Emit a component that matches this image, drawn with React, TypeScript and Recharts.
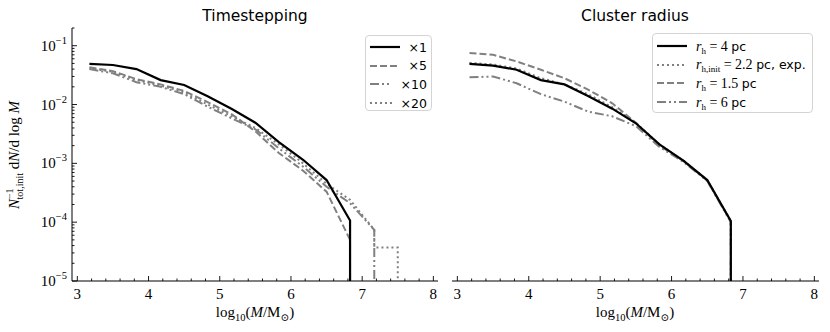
import React from 'react';
import { LineChart, Line, XAxis, YAxis } from 'recharts';

const FLOOR = 1e-5;

// bin centres in log10(M/Msun)
const massBins = [3.17, 3.5, 3.83, 4.17, 4.5, 4.83, 5.17, 5.5, 5.83, 6.17, 6.5, 6.83, 7.17, 7.5];

// Timestepping panel
const ts1 = [0.049, 0.047, 0.04, 0.026, 0.0215, 0.0138, 0.0084, 0.0049, 0.0023, 0.00115, 0.00052, 0.000107];
const ts5 = [0.043, 0.037, 0.027, 0.022, 0.017, 0.011, 0.0068, 0.0035, 0.0015, 0.00075, 0.00033, 0.00005];
const ts10 = [0.04, 0.034, 0.024, 0.02, 0.015, 0.0092, 0.0058, 0.0038, 0.0018, 0.00088, 0.0004, 0.00021, 0.000074];
const ts20 = [0.041, 0.036, 0.026, 0.021, 0.016, 0.01, 0.0063, 0.004, 0.0021, 0.001, 0.00045, 0.00024, 0.000074];
const ts1TailX = [6.83];
const ts1TailY = [FLOOR];
const ts5TailX = [6.83];
const ts5TailY = [FLOOR];
const ts10TailX = [7.17];
const ts10TailY = [FLOOR];
const ts20TailX = [7.17, 7.5, 7.5];
const ts20TailY = [0.000037, 0.000037, FLOOR];

// Cluster radius panel
const cr4 = [0.049, 0.046, 0.039, 0.026, 0.022, 0.014, 0.0085, 0.0048, 0.0021, 0.0011, 0.00052, 0.000105];
const cr22 = [0.051, 0.048, 0.041, 0.028, 0.022, 0.015, 0.009, 0.0049, 0.0021, 0.0011, 0.00052, 0.000105];
const cr15 = [0.075, 0.07, 0.054, 0.039, 0.028, 0.018, 0.0105, 0.0049, 0.002, 0.0011, 0.00051, 0.000103];
const cr6 = [0.029, 0.03, 0.023, 0.015, 0.0112, 0.0076, 0.0063, 0.0043, 0.0019, 0.00105, 0.0005, 0.0001];
const crTailX = [6.83];
const crTailY = [FLOOR];

const xMajor = [3, 4, 5, 6, 7, 8];
const xMinorSteps = [0, 0.2, 0.4, 0.6, 0.8];
const yDecades = [1e-5, 1e-4, 1e-3, 1e-2, 1e-1];
const yMinorMult = [1, 2, 3, 4, 5, 6, 7, 8, 9];

const X_DOMAIN: [number, number] = [2.925, 8.065];
const Y_DOMAIN: [number, number] = [1e-5, 0.2];

const xTicks = xMajor
  .flatMap((m) => xMinorSteps.map((s) => +(m + s).toFixed(2)))
  .filter((v) => v <= 8);
const yTicks = yDecades
  .flatMap((d) => yMinorMult.map((k) => d * k))
  .filter((v) => v <= 0.2 * 1.0001);

const SERIF = '"Liberation Serif", "DejaVu Serif", serif';
const SANS = '"DejaVu Sans", sans-serif';
const GRAY = '#808080';

const DASH = '7 3';
const DOT = '2 3';
const DASHDOTDOT = '9 3 2 3 2 3';

const toPath = (ys: number[], tailX: number[], tailY: number[]) => [
  ...ys.map((y, i) => ({ x: massBins[i], y })),
  ...tailX.map((x, i) => ({ x, y: tailY[i] })),
];

const isMajorX = (v: number) => Math.abs(v - Math.round(v)) < 1e-6;
const isMajorY = (v: number) => {
  const e = Math.round(Math.log10(v));
  return Math.abs(v / Math.pow(10, e) - 1) < 1e-6;
};

const makeXTick = (side: 'bottom' | 'top', labels: boolean) => (props: any) => {
  const { x, y, payload } = props;
  const v = payload.value;
  const major = isMajorX(v);
  const len = major ? 5 : 2.5;
  const dir = side === 'bottom' ? -1 : 1;
  return (
    <g>
      <line x1={x} x2={x} y1={y} y2={y + dir * len} stroke="#000" strokeWidth={0.9} />
      {labels && major && (
        <text x={x} y={y + 18} textAnchor="middle" fontFamily={SERIF} fontSize={15} fill="#000">
          {v}
        </text>
      )}
    </g>
  );
};

const makeYTick = (side: 'left' | 'right', labels: boolean) => (props: any) => {
  const { x, y, payload } = props;
  const v = payload.value;
  const major = isMajorY(v);
  const len = major ? 5 : 2.5;
  const dir = side === 'left' ? 1 : -1;
  const exp = Math.round(Math.log10(v));
  return (
    <g>
      <line x1={x} x2={x + dir * len} y1={y} y2={y} stroke="#000" strokeWidth={0.9} />
      {labels && major && (
        <text x={x - 5} y={y + 5} textAnchor="end" fontFamily={SERIF} fontSize={15} fill="#000">
          10
          <tspan dy={-7} fontSize={10.5}>
            {'\u2212' + -exp}
          </tspan>
        </text>
      )}
    </g>
  );
};

type Series = { data: { x: number; y: number }[]; color: string; width: number; dash?: string };

const Panel = ({
  series,
  width,
  left,
  yAxisWidth,
  right,
  labels,
}: {
  series: Series[];
  width: number;
  left: number;
  yAxisWidth: number;
  right: number;
  labels: boolean;
}) => (
  <LineChart width={width} height={332} margin={{ top: 28, right, bottom: 0, left }}>
    <XAxis
      xAxisId={0}
      dataKey="x"
      type="number"
      domain={X_DOMAIN}
      allowDataOverflow
      ticks={xTicks}
      interval={0}
      height={51}
      tickSize={0}
      tickMargin={0}
      tickLine={false}
      axisLine={{ stroke: '#000', strokeWidth: 1 }}
      tick={makeXTick('bottom', true)}
    />
    <XAxis
      xAxisId="top"
      orientation="top"
      dataKey="x"
      type="number"
      domain={X_DOMAIN}
      allowDataOverflow
      ticks={xTicks}
      interval={0}
      height={0}
      tickSize={0}
      tickMargin={0}
      tickLine={false}
      axisLine={{ stroke: '#000', strokeWidth: 1 }}
      tick={makeXTick('top', false)}
    />
    <YAxis
      yAxisId={0}
      type="number"
      scale="log"
      domain={Y_DOMAIN}
      allowDataOverflow
      ticks={yTicks}
      interval={0}
      width={yAxisWidth}
      tickSize={0}
      tickMargin={0}
      tickLine={false}
      axisLine={{ stroke: '#000', strokeWidth: 1 }}
      tick={makeYTick('left', labels)}
    />
    <YAxis
      yAxisId="right"
      orientation="right"
      type="number"
      scale="log"
      domain={Y_DOMAIN}
      allowDataOverflow
      ticks={yTicks}
      interval={0}
      width={0}
      tickSize={0}
      tickMargin={0}
      tickLine={false}
      axisLine={{ stroke: '#000', strokeWidth: 1 }}
      tick={makeYTick('right', false)}
    />
    {/* grey curves first, the black reference curve on top */}
    {[...series.slice(1), series[0]].map((s, i) => (
      <Line
        key={i}
        data={s.data}
        dataKey="y"
        type="linear"
        stroke={s.color}
        strokeWidth={s.width}
        strokeDasharray={s.dash}
        dot={false}
        activeDot={false}
        isAnimationActive={false}
      />
    ))}
  </LineChart>
);

const Sample = ({ color, width, dash }: { color: string; width: number; dash?: string }) => (
  <svg width={30} height={10} style={{ display: 'block' }}>
    <line x1={0} x2={30} y1={5} y2={5} stroke={color} strokeWidth={width} strokeDasharray={dash} />
  </svg>
);

const legendBox: React.CSSProperties = {
  position: 'absolute',
  border: '1px solid #d4d4d4',
  borderRadius: 4,
  background: 'rgba(255,255,255,0.85)',
  boxSizing: 'border-box',
  padding: '2px 4px',
};

const rowStyle: React.CSSProperties = {
  display: 'flex',
  alignItems: 'center',
  height: 18.6,
  gap: 9,
  whiteSpace: 'nowrap',
};

const sub: React.CSSProperties = { fontSize: 9, verticalAlign: -3, fontFamily: SERIF };

const Rh = ({ init }: { init?: boolean }) => (
  <span style={{ fontFamily: SERIF, fontSize: 14 }}>
    <i>r</i>
    <span style={sub}>{init ? 'h,init' : 'h'}</span>
  </span>
);

export default function App() {
  const tsSeries: Series[] = [
    { data: toPath(ts1, ts1TailX, ts1TailY), color: '#000', width: 2.2 },
    { data: toPath(ts5, ts5TailX, ts5TailY), color: GRAY, width: 2, dash: DASH },
    { data: toPath(ts10, ts10TailX, ts10TailY), color: GRAY, width: 2, dash: DASHDOTDOT },
    { data: toPath(ts20, ts20TailX, ts20TailY), color: GRAY, width: 2, dash: DOT },
  ];
  const crSeries: Series[] = [
    { data: toPath(cr4, crTailX, crTailY), color: '#000', width: 2.2 },
    { data: toPath(cr22, crTailX, crTailY), color: GRAY, width: 2, dash: DOT },
    { data: toPath(cr15, crTailX, crTailY), color: GRAY, width: 2, dash: DASH },
    { data: toPath(cr6, crTailX, crTailY), color: GRAY, width: 2, dash: DASHDOTDOT },
  ];

  return (
    <div
      style={{
        position: 'absolute',
        left: 0,
        top: 0,
        width: 830,
        height: 332,
        background: '#fff',
        overflow: 'hidden',
      }}
    >
      <div style={{ position: 'absolute', left: 0, top: 0 }}>
        <Panel series={tsSeries} width={440} left={0} yAxisWidth={72} right={2} labels />
      </div>
      <div style={{ position: 'absolute', left: 440, top: 0 }}>
        <Panel series={crSeries} width={390} left={12} yAxisWidth={0} right={11} labels={false} />
      </div>

      <svg width={830} height={332} style={{ position: 'absolute', left: 0, top: 0, pointerEvents: 'none' }}>
        <text x={255} y={21} textAnchor="middle" fontFamily={SANS} fontSize={15.5} fill="#000">
          Timestepping
        </text>
        <text x={635} y={21} textAnchor="middle" fontFamily={SANS} fontSize={15.5} fill="#000">
          Cluster radius
        </text>
        {[255, 635].map((cx) => (
          <text key={cx} x={cx} y={317} textAnchor="middle" fontFamily={SERIF} fontSize={15} fill="#000">
            log
            <tspan dy={4} fontSize={10.5}>
              10
            </tspan>
            <tspan dy={-4}>(</tspan>
            <tspan fontStyle="italic">M</tspan>
            <tspan>/M</tspan>
            <tspan dy={4} fontSize={10.5}>
              {'\u2299'}
            </tspan>
            <tspan dy={-4}>)</tspan>
          </text>
        ))}
        <text
          transform="translate(19,155) rotate(-90)"
          textAnchor="middle"
          fontFamily={SERIF}
          fontSize={15}
          fill="#000"
        >
          <tspan fontStyle="italic">N</tspan>
          <tspan dy={-6} fontSize={10}>
            {'\u22121'}
          </tspan>
          <tspan dx={-11} dy={10} fontSize={10}>
            tot,init
          </tspan>
          <tspan dy={-4}> d</tspan>
          <tspan fontStyle="italic">N</tspan>
          <tspan>/d log </tspan>
          <tspan fontStyle="italic">M</tspan>
        </text>
      </svg>

      <div style={{ ...legendBox, left: 365, top: 35, width: 67, height: 76 }}>
        {[
          { label: '\u00d71', s: tsSeries[0] },
          { label: '\u00d75', s: tsSeries[1] },
          { label: '\u00d710', s: tsSeries[2] },
          { label: '\u00d720', s: tsSeries[3] },
        ].map((r) => (
          <div key={r.label} style={rowStyle}>
            <Sample color={r.s.color} width={r.s.width} dash={r.s.dash} />
            <span style={{ fontFamily: SANS, fontSize: 12.5 }}>{r.label}</span>
          </div>
        ))}
      </div>

      <div style={{ ...legendBox, left: 652, top: 33, width: 161, height: 80 }}>
        <div style={{ ...rowStyle, marginTop: 1 }}>
          <Sample color={crSeries[0].color} width={crSeries[0].width} />
          <span>
            <Rh />
            <span style={{ fontFamily: SERIF, fontSize: 14 }}> = 4 </span>
            <span style={{ fontFamily: SANS, fontSize: 12.5 }}>pc</span>
          </span>
        </div>
        <div style={rowStyle}>
          <Sample color={crSeries[1].color} width={crSeries[1].width} dash={crSeries[1].dash} />
          <span>
            <Rh init />
            <span style={{ fontFamily: SERIF, fontSize: 14 }}> = 2.2 </span>
            <span style={{ fontFamily: SANS, fontSize: 12.5 }}>pc, exp.</span>
          </span>
        </div>
        <div style={rowStyle}>
          <Sample color={crSeries[2].color} width={crSeries[2].width} dash={crSeries[2].dash} />
          <span>
            <Rh />
            <span style={{ fontFamily: SERIF, fontSize: 14 }}> = 1.5 </span>
            <span style={{ fontFamily: SANS, fontSize: 12.5 }}>pc</span>
          </span>
        </div>
        <div style={rowStyle}>
          <Sample color={crSeries[3].color} width={crSeries[3].width} dash={crSeries[3].dash} />
          <span>
            <Rh />
            <span style={{ fontFamily: SERIF, fontSize: 14 }}> = 6 </span>
            <span style={{ fontFamily: SANS, fontSize: 12.5 }}>pc</span>
          </span>
        </div>
      </div>
    </div>
  );
}
